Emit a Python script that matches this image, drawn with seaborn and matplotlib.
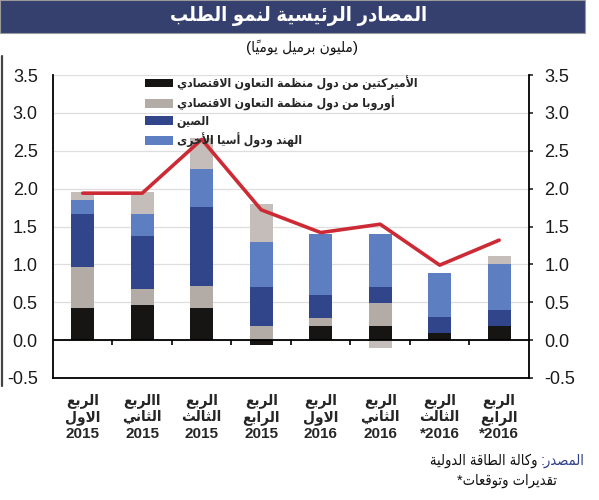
import matplotlib
matplotlib.use('Agg')
import matplotlib.pyplot as plt
from matplotlib.patches import Patch, Rectangle
from matplotlib.lines import Line2D
import seaborn as sns
import numpy as np

# data (million barrels per day)
quarters = ['الربع\nالاول', 'االربع\nالثاني', 'الربع\nالثالث', 'الربع\nالرابع',
            'الربع\nالاول', 'الربع\nالثاني', 'الربع\nالثالث', 'الربع\nالرابع']
years = ['2015', '2015', '2015', '2015', '2016', '2016', '*2016', '*2016']

americas = [0.42, 0.46, 0.43, -0.06, 0.19, 0.19, 0.09, 0.19]
europe = [0.54, 0.21, 0.29, 0.19, 0.10, 0.30, 0.00, 0.00]
china = [0.70, 0.71, 1.04, 0.51, 0.30, 0.21, 0.21, 0.21]
asia = [0.19, 0.29, 0.50, 0.60, 0.81, 0.70, 0.59, 0.61]
other = [0.10, 0.29, 0.41, 0.50, 0.00, -0.11, 0.00, 0.10]
total = [1.94, 1.94, 2.65, 1.72, 1.42, 1.53, 0.99, 1.32]

legend_labels = ['الأميركتين من دول منظمة التعاون الاقتصادي',
                 'أوروبا من دول منظمة التعاون الاقتصادي',
                 'الصين',
                 'الهند ودول أسيا الأخرى']
title = 'المصادر الرئيسية لنمو الطلب'
subtitle = '(مليون برميل يومياً)'
source_head = 'المصدر:'
source_body = ' وكالة الطاقة الدولية'
note = 'تقديرات وتوقعات*'


# --- minimal arabic shaping (matplotlib has no complex text layout) ---
def _forms():
    cps = list(range(0x621, 0x63B)) + list(range(0x641, 0x64B))
    n = [1, 2, 2, 2, 2, 4, 2, 4, 2, 4, 4, 4, 4, 4, 2, 2, 2, 2, 4, 4, 4, 4, 4, 4, 4, 4,
         4, 4, 4, 4, 4, 4, 4, 2, 2, 4]
    out, pos = {}, 0xFE80
    for cp, k in zip(cps, n):
        out[chr(cp)] = [chr(pos + i) for i in range(k)]
        pos += k
    return out


FORMS = _forms()
LAM_ALEF = {'\u0622': 0xFEF5, '\u0623': 0xFEF7, '\u0625': 0xFEF9, '\u0627': 0xFEFB}
MIRROR = {'(': ')', ')': '('}


def _line(s):
    cl = []
    for ch in s:
        if 0x64B <= ord(ch) <= 0x652 and cl:
            cl[-1][1] += ch
        else:
            cl.append([ch, ''])
    merged = []
    i = 0
    while i < len(cl):
        if cl[i][0] == 'ل' and i + 1 < len(cl) and cl[i + 1][0] in LAM_ALEF:
            merged.append([('LA', LAM_ALEF[cl[i + 1][0]]), cl[i][1] + cl[i + 1][1]])
            i += 2
        else:
            merged.append(cl[i])
            i += 1

    def dual(b):
        return isinstance(b, str) and b in FORMS and len(FORMS[b]) == 4

    def joins(b):
        return isinstance(b, tuple) or (b in FORMS and len(FORMS[b]) > 1)

    glyphs = []
    for i, (b, marks) in enumerate(merged):
        prev = i > 0 and dual(merged[i - 1][0]) and joins(b)
        nxt = dual(b) and i + 1 < len(merged) and joins(merged[i + 1][0])
        if isinstance(b, tuple):
            g = chr(b[1] + (1 if prev else 0))
        elif b in FORMS:
            f = FORMS[b]
            if prev and nxt:
                g = f[3]
            elif prev:
                g = f[1]
            elif nxt:
                g = f[2]
            else:
                g = f[0]
        else:
            g = MIRROR.get(b, b)
        glyphs.append(g + marks)
    return ''.join(glyphs[::-1])


def ar(s):
    return '\n'.join(_line(p) for p in s.split('\n'))


# --- style ---
sns.set_style('white')
plt.rcParams['font.family'] = ['Liberation Sans', 'DejaVu Sans']

colors = ['#171513', '#b3aba6', '#30458a', '#5d7fc1', '#c4bdb9']
series = [americas, europe, china, asia, other]
red = '#cc2b36'

fig = plt.figure(figsize=(5.99, 5.0), dpi=100)
ax = fig.add_axes([0.0885, 0.244, 0.7945, 0.606])

x = np.arange(len(quarters))
pos_base = np.zeros(len(x))
neg_base = np.zeros(len(x))
for vals, c in zip(series, colors):
    v = np.array(vals)
    bottom = np.where(v >= 0, pos_base, neg_base)
    sns.barplot(x=x, y=v, bottom=bottom, color=c, saturation=1, width=0.39,
                errorbar=None, linewidth=0, ax=ax, zorder=2)
    pos_base += np.where(v > 0, v, 0)
    neg_base += np.where(v < 0, v, 0)

sns.lineplot(x=x, y=total, color=red, lw=2.6, ax=ax, zorder=4)

ax.set_xlim(-0.5, 7.5)
ax.set_ylim(-0.5, 3.5)
ax.set_yticks(np.arange(-0.5, 3.51, 0.5))
ax.set_yticklabels([f'{t:.1f}' for t in np.arange(-0.5, 3.51, 0.5)])
ax.yaxis.grid(True, color='#dedede', lw=0.9)
ax.set_axisbelow(True)
ax.tick_params(axis='y', left=False, right=True, labelleft=True, labelright=True,
               length=3, width=1.2, pad=8, labelsize=13, labelcolor='#1a1a1a')
ax.set_xticks(x)
ax.set_xticklabels([ar(q) + '\n' + y for q, y in zip(quarters, years)],
                   fontsize=11, fontweight='bold', linespacing=1.2,
                   fontstretch='condensed')
ax.tick_params(axis='x', length=0, pad=11)
ax.set_xlabel('')
ax.set_ylabel('')
for s in ['left', 'right', 'bottom']:
    ax.spines[s].set_color('black')
    ax.spines[s].set_linewidth(1.3)
ax.spines['top'].set_visible(False)

# zero line with short separators between quarters
ax.axhline(0, color='black', lw=1.3, zorder=3)
ax.vlines(np.arange(0.5, 7, 1), 0.125 - 0.016, 0.125, transform=ax.get_xaxis_transform(),
          color='black', lw=1.2, zorder=3)

handles = [Patch(facecolor=c, edgecolor='none') for c in colors[:4]]
ax.legend(handles, [ar(l) for l in legend_labels], loc='upper left',
          bbox_to_anchor=(0.17, 1.035), frameon=False, handlelength=2.3,
          handleheight=0.75, handletextpad=0.3, labelspacing=0.4,
          prop={'size': 8.8, 'weight': 'bold', 'stretch': 'condensed'})

# header banner
fig.patches.append(Rectangle((0.0, 1 - 33 / 500), 585 / 599, 33 / 500,
                             transform=fig.transFigure, facecolor='#35406e',
                             edgecolor='#9a9a9a', lw=0.8))
fig.text(0.498, 0.967, ar(title), color='white', fontsize=14.5, fontweight='bold',
         fontstretch='condensed', ha='center', va='center')
fig.text(0.505, 0.905, ar(subtitle), color='#111111', fontsize=11,
         fontstretch='condensed', ha='center', va='center')
fig.lines.append(Line2D([0.003, 0.003], [1 - 56 / 500, 1 - 386 / 500],
                        transform=fig.transFigure, color='#444444', lw=1.6))

# footer
head = fig.text(585 / 599, 1 - 461 / 500, ar(source_head), color='#2f3f8a',
                fontsize=10.5, fontstretch='condensed', ha='right', va='center')
ax.annotate(ar(source_body), xy=(0, 0.5), xycoords=head, ha='right', va='center',
            fontsize=10.5, fontstretch='condensed', color='#111111',
            annotation_clip=False)
fig.text(557 / 599, 1 - 481 / 500, ar(note), color='#111111', fontsize=10.5,
         fontstretch='condensed', ha='right', va='center')

fig.savefig('out.png', dpi=100)
